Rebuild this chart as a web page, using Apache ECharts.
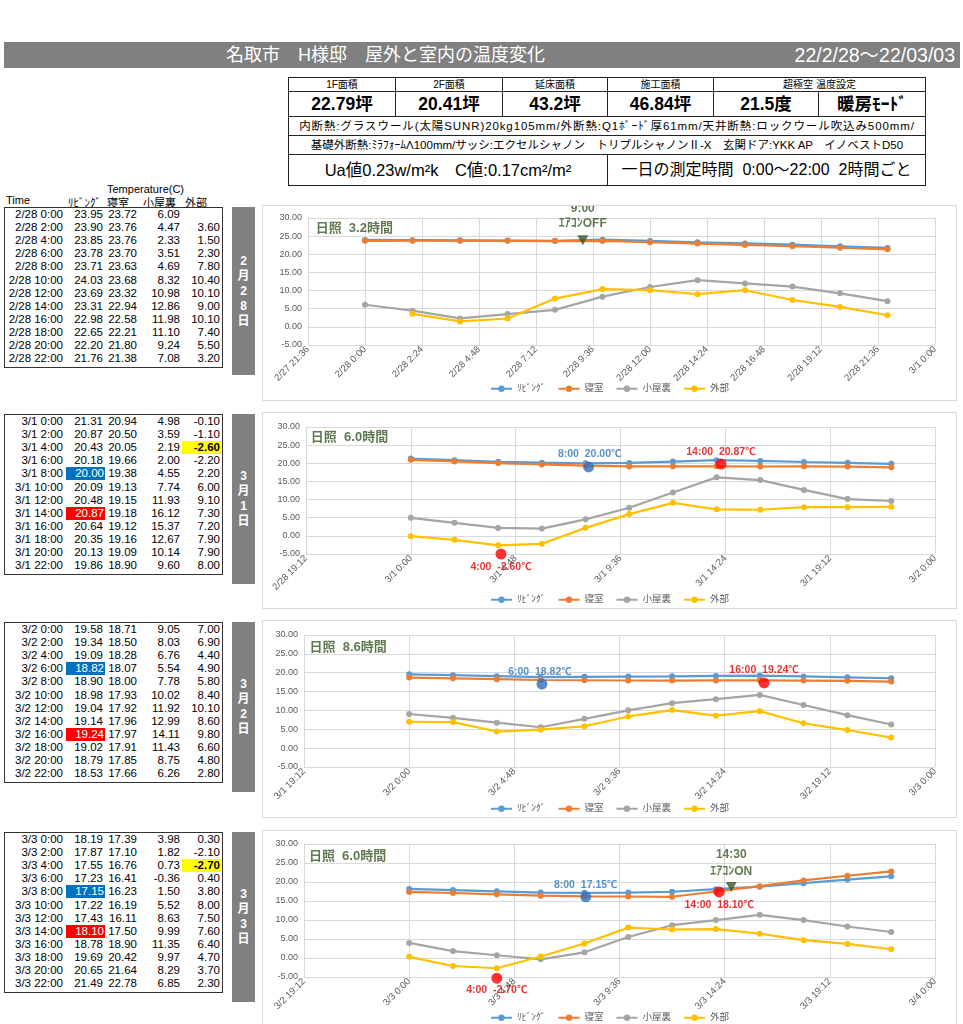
<!DOCTYPE html>
<html><head><meta charset="utf-8">
<script src="https://cdn.jsdelivr.net/npm/echarts@6/dist/echarts.min.js"></script>
<style>
html,body{margin:0;padding:0}
body{width:963px;height:1024px;overflow:hidden;background:#fff;position:relative;font-family:"Liberation Sans","Noto Sans CJK JP",sans-serif;color:#000}
.abs{position:absolute}
#bar{left:4px;top:42px;width:956px;height:26px;background:#808080;color:#fff}
#title{position:absolute;left:222px;top:0;line-height:26px;font-size:18px;white-space:pre}
#range{position:absolute;right:5px;top:0;line-height:26px;font-size:19.5px}
#info{left:288px;top:77px;border-collapse:collapse;table-layout:fixed;width:637px}
#info td{border:1px solid #222;text-align:center;padding:0;white-space:nowrap;overflow:hidden}
.r1 td{height:13px;font-size:10px;line-height:13px}
.r2 td{height:24px;font-size:17.5px;font-weight:bold;line-height:24px}
.r3 td{height:18px;font-size:11.5px;line-height:18px}
.r5 td{height:30px;font-size:16px;line-height:30px}
.tbox{position:absolute;left:4px;width:217px;border:1px solid #333}
.cell{position:absolute;height:13px;line-height:13px;font-size:11.5px;text-align:right;white-space:nowrap}
.side{position:absolute;left:232px;width:23px;background:#808080;color:#fff;font-weight:bold;font-size:12px;display:flex;align-items:center;justify-content:center;text-align:center;line-height:15px}
.cbox{position:absolute;left:262px;width:695px;border:1px solid #d9d9d9;box-sizing:border-box}
.hdr{position:absolute;font-size:11px;white-space:nowrap}
</style></head><body>
<div id="bar" class="abs"><div id="title">名取市　H様邸　屋外と室内の温度変化</div><div id="range">22/2/28～22/03/03</div></div>
<table id="info" class="abs">
<colgroup><col style="width:107px"><col style="width:107px"><col style="width:105px"><col style="width:106px"><col style="width:105px"><col style="width:107px"></colgroup>
<tr class="r1"><td>1F面積</td><td>2F面積</td><td>延床面積</td><td>施工面積</td><td colspan="2">超極空 温度設定</td></tr>
<tr class="r2"><td>22.79坪</td><td>20.41坪</td><td>43.2坪</td><td>46.84坪</td><td>21.5度</td><td>暖房ﾓｰﾄﾞ</td></tr>
<tr class="r3"><td colspan="6" style="letter-spacing:0.9px">内断熱:グラスウール(太陽SUNR)20kg105mm/外断熱:Q1ﾎﾞｰﾄﾞ厚61mm/天井断熱:ロックウール吹込み500mm/</td></tr>
<tr class="r3"><td colspan="6">基礎外断熱:ﾐﾗﾌｫｰﾑΛ100mm/サッシ:エクセルシャノン　トリプルシャノンⅡ-X　玄関ドア:YKK AP　イノベストD50</td></tr>
<tr class="r5"><td colspan="3" style="font-size:16.5px">Ua値0.23w/m²k　C値:0.17cm²/m²</td><td colspan="3">一日の測定時間&nbsp;&nbsp;0:00～22:00&nbsp;&nbsp;2時間ごと</td></tr>
</table>
<div class="hdr" style="left:107px;top:183px">Temperature(C)</div>
<div class="hdr" style="left:6px;top:194px">Time</div>
<div class="hdr" style="left:68px;top:194px">ﾘﾋﾞﾝｸﾞ</div>
<div class="hdr" style="left:107px;top:194px">寝室</div>
<div class="hdr" style="left:143px;top:194px">小屋裏</div>
<div class="hdr" style="left:185px;top:194px">外部</div>
<script>
// ---- data ----
const hours = [0,2,4,6,8,10,12,14,16,18,20,22];
const seriesNames = ['ﾘﾋﾞﾝｸﾞ','寝室','小屋裏','外部'];
const dayLabels = ['2/28','3/1','3/2','3/3'];
const sideLabels = [['2','月','2','8','日'],['3','月','1','日'],['3','月','2','日'],['3','月','3','日']];

const living0228 = [23.95,23.90,23.85,23.78,23.71,24.03,23.69,23.31,22.98,22.65,22.20,21.76];
const bed0228    = [23.72,23.76,23.76,23.70,23.63,23.68,23.32,22.94,22.58,22.21,21.80,21.38];
const attic0228  = [6.09,4.47,2.33,3.51,4.69,8.32,10.98,12.86,11.98,11.10,9.24,7.08];
const outdoor0228= [null,3.60,1.50,2.30,7.80,10.40,10.10,9.00,10.10,7.40,5.50,3.20];

const living0301 = [21.31,20.87,20.43,20.18,20.00,20.09,20.48,20.87,20.64,20.35,20.13,19.86];
const bed0301    = [20.94,20.50,20.05,19.66,19.38,19.13,19.15,19.18,19.12,19.16,19.09,18.90];
const attic0301  = [4.98,3.59,2.19,2.00,4.55,7.74,11.93,16.12,15.37,12.67,10.14,9.60];
const outdoor0301= [-0.10,-1.10,-2.60,-2.20,2.20,6.00,9.10,7.30,7.20,7.90,7.90,8.00];

const living0302 = [19.58,19.34,19.09,18.82,18.90,18.98,19.04,19.14,19.24,19.02,18.79,18.53];
const bed0302    = [18.71,18.50,18.28,18.07,18.00,17.93,17.92,17.96,17.97,17.91,17.85,17.66];
const attic0302  = [9.05,8.03,6.76,5.54,7.78,10.02,11.92,12.99,14.11,11.43,8.75,6.26];
const outdoor0302= [7.00,6.90,4.40,4.90,5.80,8.40,10.10,8.60,9.80,6.60,4.80,2.80];

const living0303 = [18.19,17.87,17.55,17.23,17.15,17.22,17.43,18.10,18.78,19.69,20.65,21.49];
const bed0303    = [17.39,17.10,16.76,16.41,16.23,16.19,16.11,17.50,18.90,20.42,21.64,22.78];
const attic0303  = [3.98,1.82,0.73,-0.36,1.50,5.52,8.63,9.99,11.35,9.97,8.29,6.85];
const outdoor0303= [0.30,-2.10,-2.70,0.40,3.80,8.00,7.50,7.60,6.40,4.70,3.70,2.30];

// highlighted table cells (row index): blue / red on living, yellow on outdoor
const highlight0228 = {blue:null, red:null, yellow:null};
const highlight0301 = {blue:4, red:7, yellow:2};
const highlight0302 = {blue:3, red:8, yellow:null};
const highlight0303 = {blue:4, red:7, yellow:2};

// annotations: [hour, value, kind, text]
const notes0228 = [[-2.1,27.0,'sun','日照  3.2時間'],[9.17,32.7,'green','9:00'],[9.17,28.3,'green','ｴｱｺﾝOFF'],[9.17,23.9,'tri','']];
const notes0301 = [[-4.6,27.0,'sun','日照  6.0時間'],[8.19,22.6,'blueText','8:00  20.00℃'],[8.14,19.0,'blueDot',''],[14.2,23.1,'redText','14:00  20.87℃'],[14.2,19.8,'redDot',''],[4.13,-8.6,'redText','4:00  -2.60℃'],[4.13,-5.0,'redDot','']];
const notes0302 = [[-4.57,26.6,'sun','日照  8.6時間'],[5.97,20.2,'blueText','6:00  18.82℃'],[6.06,17.0,'blueDot',''],[16.2,20.7,'redText','16:00  19.24℃'],[16.2,17.3,'redDot','']];
const notes0303 = [[-4.6,26.6,'sun','日照  6.0時間'],[14.7,27.1,'green','14:30'],[14.7,22.6,'green','ｴｱｺﾝON'],[14.7,18.7,'tri',''],[8.06,19.2,'blueText','8:00  17.15℃'],[8.06,16.1,'blueDot',''],[14.15,17.4,'redDot',''],[14.15,14.0,'redText','14:00  18.10℃'],[4.0,-5.3,'redDot',''],[4.0,-8.5,'redText','4:00  -2.70℃']];

const yTicks = {min:-5, max:30, interval:5};

// ---- layout (not data) ----
const days = [
  {vals:[living0228,bed0228,attic0228,outdoor0228], hl:highlight0228, notes:notes0228, base:Date.UTC(2022,1,28), xmin:-2.4, xint:2.4,
   tTop:207, sideH:168, box:[205,196], grid:{left:45,right:21,top:12,height:127}, legTop:173},
  {vals:[living0301,bed0301,attic0301,outdoor0301], hl:highlight0301, notes:notes0301, base:Date.UTC(2022,2,1), xmin:-4.8, xint:4.8,
   tTop:414, sideH:170, box:[412,197], grid:{left:43,right:21,top:14,height:127}, legTop:177},
  {vals:[living0302,bed0302,attic0302,outdoor0302], hl:highlight0302, notes:notes0302, base:Date.UTC(2022,2,2), xmin:-4.8, xint:4.8,
   tTop:622, sideH:170, box:[620,198], grid:{left:41,right:21,top:14,height:132}, legTop:178},
  {vals:[living0303,bed0303,attic0303,outdoor0303], hl:highlight0303, notes:notes0303, base:Date.UTC(2022,2,3), xmin:-4.8, xint:4.8,
   tTop:832, sideH:170, box:[830,200], grid:{left:41,right:21,top:13,height:133}, legTop:177}
];
const colors = ['#5b9bd5','#ed7d31','#a5a5a5','#ffc000'];
const colRight = [63,103,137,180,220];
const rowH = 13.1;

function fmtNum(v){ return v==null ? '' : v.toFixed(2); }
function fmtTick(base,h){
  const d = new Date(base + Math.round(h*60)*60000);
  return (d.getUTCMonth()+1)+'/'+d.getUTCDate()+' '+d.getUTCHours()+':'+String(d.getUTCMinutes()).padStart(2,'0');
}

days.forEach((day,di)=>{
  // table
  const box = document.createElement('div');
  box.className='tbox'; box.style.top=day.tTop+'px'; box.style.height=(rowH*12+2)+'px';
  document.body.appendChild(box);
  hours.forEach((h,ri)=>{
    const y = day.tTop + 1 + ri*rowH;
    const texts = [dayLabels[di]+' '+h+':00'].concat(day.vals.map(a=>fmtNum(a[ri])));
    texts.forEach((t,ci)=>{
      const c = document.createElement('div');
      c.className='cell';
      const left = ci===0?4:colRight[ci-1]+2;
      c.style.left=left+'px'; c.style.width=(colRight[ci]-left)+'px'; c.style.top=y+'px';
      c.textContent=t;
      if(ci===1 && day.hl.blue===ri){c.style.background='#0070c0';c.style.color='#fff';c.style.left='66px';c.style.width='38px';c.style.paddingRight='1px';}
      if(ci===1 && day.hl.red===ri){c.style.background='#ff0000';c.style.color='#fff';c.style.left='66px';c.style.width='38px';c.style.paddingRight='1px';}
      if(ci===4 && day.hl.yellow===ri){c.style.background='#ffff00';c.style.fontWeight='bold';c.style.left='182px';c.style.width='38px';c.style.paddingRight='1px';}
      document.body.appendChild(c);
    });
  });
  // side label
  const s = document.createElement('div');
  s.className='side'; s.style.top=day.tTop+'px'; s.style.height=day.sideH+'px';
  s.innerHTML = sideLabels[di].join('<br>');
  document.body.appendChild(s);
  // chart
  const cb = document.createElement('div');
  cb.className='cbox'; cb.style.top=day.box[0]+'px'; cb.style.height=day.box[1]+'px';
  document.body.appendChild(cb);
  const chart = echarts.init(cb, null, {renderer:'canvas'});
  const series = day.vals.map((arr,si)=>({
    name: seriesNames[si], type:'line', symbol:'circle', symbolSize:6,
    data: hours.map((h,i)=>[h,arr[i]]).filter(p=>p[1]!=null),
    lineStyle:{width:2.2,color:colors[si]}, itemStyle:{color:colors[si]},
    emphasis:{disabled:true}, z:2+si
  }));
  const noteData = day.notes.map(n=>{
    const [t,v,kind,text]=n;
    const item = {value:[t,v]};
    if(kind==='tri'){ Object.assign(item,{symbol:'triangle',symbolRotate:180,symbolSize:[11,10],itemStyle:{color:'#375623'}}); }
    else if(kind==='blueDot'){ Object.assign(item,{symbol:'circle',symbolSize:11,itemStyle:{color:'#2f6fc0'}}); }
    else if(kind==='redDot'){ Object.assign(item,{symbol:'circle',symbolSize:11,itemStyle:{color:'#ff0000'}}); }
    else {
      const st = {sun:{c:'#375623',fs:13,pos:'right'},green:{c:'#375623',fs:12,pos:'inside'},blueText:{c:'#2e75b6',fs:10.5,pos:'inside'},redText:{c:'#e00000',fs:10.5,pos:'inside'}}[kind];
      Object.assign(item,{symbol:'circle',symbolSize:1,itemStyle:{color:'rgba(0,0,0,0)'},
        label:{show:true,formatter:text,position:st.pos,distance:0,color:st.c,fontSize:st.fs,fontWeight:'bold',fontFamily:'"Liberation Sans","Noto Sans CJK JP",sans-serif'}});
    }
    return item;
  });
  series.push({name:'notes',type:'scatter',data:noteData,clip:false,z:10,silent:true,emphasis:{disabled:true}});
  chart.setOption({
    animation:false,
    textStyle:{fontFamily:'"Liberation Sans","Noto Sans CJK JP",sans-serif'},
    grid:day.grid,
    legend:{data:seriesNames,top:day.legTop,left:'center',itemWidth:21,itemHeight:8,itemGap:12,
      textStyle:{fontSize:9.5,color:'#595959'}},
    xAxis:{type:'value',min:day.xmin,max:24,interval:day.xint,
      axisLine:{show:true,lineStyle:{color:'#d9d9d9'}},axisTick:{show:false},
      splitLine:{show:true,lineStyle:{color:'#d9d9d9',width:1}},
      axisLabel:{rotate:45,fontSize:9.5,color:'#595959',margin:3,showMinLabel:true,showMaxLabel:true,
        formatter:(v)=>fmtTick(day.base,v)}},
    yAxis:{type:'value',min:yTicks.min,max:yTicks.max,interval:yTicks.interval,
      axisLine:{show:false},axisTick:{show:false},
      splitLine:{show:true,lineStyle:{color:'#d9d9d9',width:1}},
      axisLabel:{fontSize:9,color:'#595959',margin:6,formatter:(v)=>v.toFixed(2)}},
    series:series
  });
});
</script>
</body></html>
